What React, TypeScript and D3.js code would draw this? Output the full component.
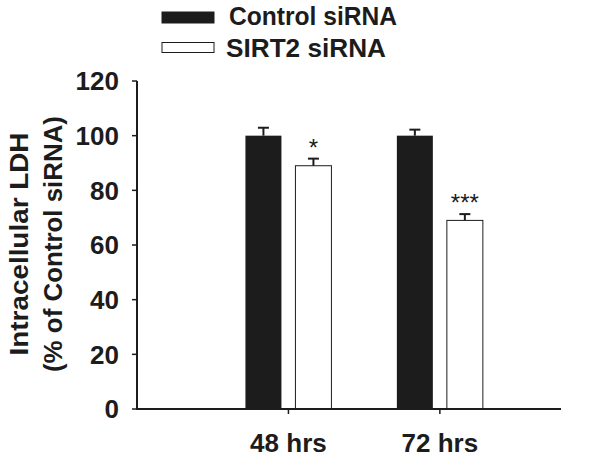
import React from 'react';
import * as d3 from 'd3';

const categories = ['48 hrs', '72 hrs'];
const seriesNames = ['Control siRNA', 'SIRT2 siRNA'];
const controlValues = [100, 100];
const sirt2Values = [89, 69];
const controlErrors = [2.9, 2.2];
const sirt2Errors = [2.6, 2.3];
const significance = ['', ''];
const sirt2Significance = ['*', '***'];
const yTicks = [0, 20, 40, 60, 80, 100, 120];

const W = 600;
const H = 459;
const FONT = '"Liberation Sans", Arial, sans-serif';
const INK = '#1c1c1c';

export default function App() {
  const y = d3.scaleLinear().domain([0, 120]).range([409, 81]);
  const x = d3.scaleLinear().domain([0, 2.8]).range([137, 561]);
  const inner = d3.scaleBand<string>().domain(seriesNames).range([-43, 43]).paddingInner(0.28);
  const bw = inner.bandwidth();

  const seriesData = [
    { name: seriesNames[0], values: controlValues, errors: controlErrors, sig: significance, fill: INK },
    { name: seriesNames[1], values: sirt2Values, errors: sirt2Errors, sig: sirt2Significance, fill: '#ffffff' },
  ];
  const legendLengths = [168, 160];

  return (
    <svg width={W} height={H} style={{ position: 'absolute', left: 0, top: 0, background: '#fff' }} fontFamily={FONT}>
      <rect x={0} y={0} width={W} height={H} fill="#fff" />
      {/* legend */}
      {seriesData.map((s, i) => (
        <g key={s.name}>
          <rect x={162} y={12 + i * 30.5} width={52} height={i === 0 ? 11 : 10} fill={s.fill} stroke={INK} strokeWidth={1} />
          <text x={i === 0 ? 229 : 226} y={25 + i * 32} fontSize={25} fontWeight="bold" fill={INK}
            textLength={legendLengths[i]} lengthAdjust="spacingAndGlyphs">{s.name}</text>
        </g>
      ))}

      {/* bars */}
      {seriesData.map((s) => (
        <g key={s.name}>
          {categories.map((c, ci) => {
            const cx = x(ci + 1) + (inner(s.name) as number);
            const top = y(s.values[ci]);
            const cap = y(s.values[ci] + s.errors[ci]);
            const mid = cx + bw / 2;
            return (
              <g key={c}>
                <rect x={cx} y={top} width={bw} height={y(0) - top} fill={s.fill} stroke={INK} strokeWidth={s.fill === INK ? 0 : 1} />
                <line x1={mid} x2={mid} y1={top} y2={cap} stroke={INK} strokeWidth={2} />
                <line x1={mid - 5.5} x2={mid + 5.5} y1={cap} y2={cap} stroke={INK} strokeWidth={2} />
                {s.sig[ci] && (
                  <text x={mid} y={cap - 3} textAnchor="middle" fontSize={24} fill={INK}>{s.sig[ci]}</text>
                )}
              </g>
            );
          })}
        </g>
      ))}

      {/* y axis */}
      <line x1={137} x2={137} y1={y(120)} y2={y(0)} stroke={INK} strokeWidth={2} />
      {yTicks.map((t) => (
        <g key={t}>
          <line x1={132} x2={137} y1={y(t)} y2={y(t)} stroke={INK} strokeWidth={1.5} />
          <text x={119} y={y(t)} dy="0.36em" textAnchor="end" fontSize={26} fontWeight="bold" fill={INK}>{t}</text>
        </g>
      ))}

      {/* x axis */}
      <line x1={136} x2={561} y1={y(0)} y2={y(0)} stroke={INK} strokeWidth={2} />
      {categories.map((c, ci) => (
        <g key={c}>
          <line x1={x(ci + 1)} x2={x(ci + 1)} y1={y(0)} y2={y(0) + 5} stroke={INK} strokeWidth={1.5} />
          <text x={x(ci + 1)} y={452} textAnchor="middle" fontSize={26} fontWeight="bold" fill={INK}>{c}</text>
        </g>
      ))}

      {/* y title */}
      <g transform="translate(28,244) rotate(-90)">
        <text x={0} y={0} textAnchor="middle" fontSize={26} fontWeight="bold" fill={INK}
          textLength={223} lengthAdjust="spacingAndGlyphs">Intracellular LDH</text>
        <text x={0} y={34} textAnchor="middle" fontSize={26} fontWeight="bold" fill={INK}
          textLength={256} lengthAdjust="spacingAndGlyphs">(% of Control siRNA)</text>
      </g>
    </svg>
  );
}
